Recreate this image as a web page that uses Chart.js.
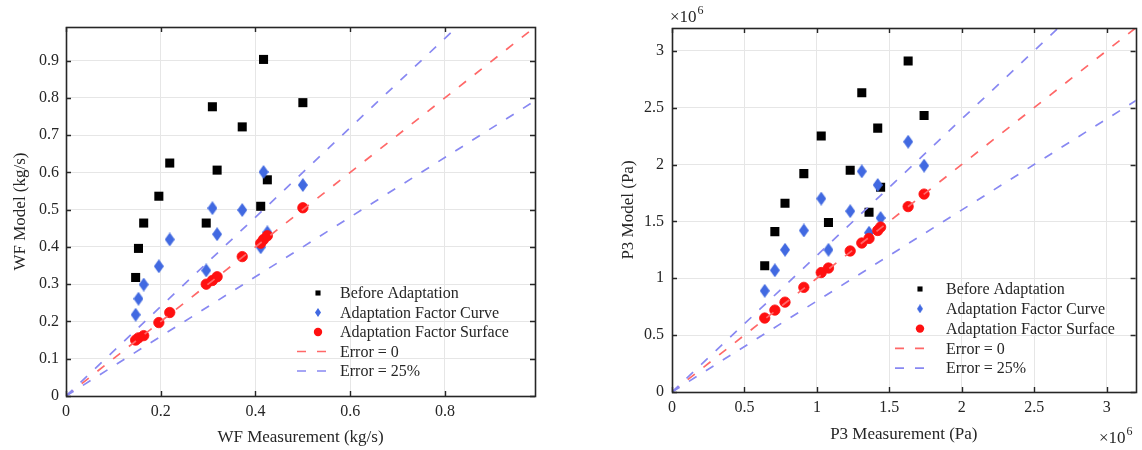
<!DOCTYPE html>
<html><head><meta charset="utf-8">
<script src="https://cdn.jsdelivr.net/npm/chart.js@4.4.0/dist/chart.umd.min.js"></script>
<style>
html,body{margin:0;padding:0;background:#fff;width:1142px;height:450px;overflow:hidden;}
canvas{position:absolute;top:0;}
#c1{left:0;} #c2{left:610px;}
</style></head><body>
<canvas id="c1" width="560" height="450"></canvas>
<canvas id="c2" width="532" height="450"></canvas>
<script>
// ---------- data ----------
const seriesNames = ['Before Adaptation', 'Adaptation Factor Curve', 'Adaptation Factor Surface', 'Error = 0', 'Error = 25%'];

// WF chart (kg/s)
const wfMeasured = [0.147, 0.153, 0.164, 0.196, 0.219, 0.296, 0.309, 0.319, 0.372, 0.411, 0.417, 0.425, 0.500];
const wfBefore   = [0.318, 0.396, 0.464, 0.536, 0.625, 0.464, 0.776, 0.606, 0.722, 0.509, 0.903, 0.580, 0.787];
const wfCurve    = [0.218, 0.261, 0.299, 0.348, 0.420, 0.337, 0.504, 0.434, 0.499, 0.399, 0.601, 0.439, 0.566];
const wfSurface  = [0.150, 0.156, 0.162, 0.197, 0.224, 0.300, 0.310, 0.320, 0.374, 0.410, 0.420, 0.430, 0.505];
const wfTicksX = [0, 0.2, 0.4, 0.6, 0.8];
const wfTicksY = [0, 0.1, 0.2, 0.3, 0.4, 0.5, 0.6, 0.7, 0.8, 0.9];
const wfTickLabelsX = ['0', '0.2', '0.4', '0.6', '0.8'];
const wfTickLabelsY = ['0', '0.1', '0.2', '0.3', '0.4', '0.5', '0.6', '0.7', '0.8', '0.9'];

// P3 chart (Pa)
const p3Measured = [0.64e6, 0.71e6, 0.78e6, 0.91e6, 1.03e6, 1.08e6, 1.23e6, 1.31e6, 1.36e6, 1.42e6, 1.44e6, 1.63e6, 1.74e6];
const p3Before   = [1.11e6, 1.41e6, 1.66e6, 1.92e6, 2.25e6, 1.49e6, 1.95e6, 2.63e6, 1.58e6, 2.32e6, 1.80e6, 2.91e6, 2.43e6];
const p3Curve    = [0.89e6, 1.07e6, 1.25e6, 1.42e6, 1.70e6, 1.25e6, 1.59e6, 1.94e6, 1.40e6, 1.82e6, 1.53e6, 2.20e6, 1.99e6];
const p3Surface  = [0.65e6, 0.72e6, 0.79e6, 0.92e6, 1.05e6, 1.09e6, 1.24e6, 1.31e6, 1.35e6, 1.42e6, 1.45e6, 1.63e6, 1.74e6];
const p3Ticks = [0, 0.5e6, 1e6, 1.5e6, 2e6, 2.5e6, 3e6];
const p3TickLabels = ['0', '0.5', '1', '1.5', '2', '2.5', '3'];

// reference lines: model = slope * measurement
const errorSlopes = [1, 1.2, 0.8];

// ---------- styling ----------
const FONT = "'Liberation Serif', 'Times New Roman', serif";
const TEXT = '#262626';
Chart.defaults.font.family = FONT;
Chart.defaults.font.size = 16;
Chart.defaults.color = TEXT;

function diamond(w, h, color) {
  const c = document.createElement('canvas');
  c.width = w; c.height = h;
  const g = c.getContext('2d');
  g.fillStyle = color;
  g.beginPath();
  g.moveTo(w / 2, 0); g.lineTo(w, h / 2); g.lineTo(w / 2, h); g.lineTo(0, h / 2); g.closePath();
  g.fill();
  return c;
}
const BLUE = '#4169e1';
const diamondBig = diamond(10, 14, BLUE);
const diamondSmall = diamond(6, 9, BLUE);

const pts = (xs, ys) => xs.map((v, i) => ({x: v, y: ys[i]}));
const refLine = (slope, xmax) => [{x: 0, y: 0}, {x: xmax * 1.5, y: xmax * 1.5 * slope}];

function makeDatasets(xs, before, curve, surface, xmax) {
  return [
    {label: seriesNames[0], data: pts(xs, before), pointStyle: 'rect', pointRadius: 6.4, backgroundColor: '#000', borderColor: '#000', borderWidth: 0, order: 4, legendRadius: 3.6},
    {label: seriesNames[1], data: pts(xs, curve), pointStyle: diamondBig, backgroundColor: BLUE, borderColor: BLUE, order: 3, legendImage: diamondSmall},
    {label: seriesNames[2], data: pts(xs, surface), pointStyle: 'circle', pointRadius: 5.2, backgroundColor: '#ff1010', borderColor: '#ff1010', borderWidth: 0.8, order: 2, legendRadius: 4.2},
    {label: seriesNames[3], data: refLine(errorSlopes[0], xmax), showLine: true, pointRadius: 0, borderColor: '#ff6868', borderWidth: 1.7, borderDash: [9, 11], order: 1},
    {label: seriesNames[4], data: refLine(errorSlopes[1], xmax), showLine: true, pointRadius: 0, borderColor: '#8888f2', borderWidth: 1.7, borderDash: [9, 11], order: 0},
    {label: seriesNames[4], data: refLine(errorSlopes[2], xmax), showLine: true, pointRadius: 0, borderColor: '#8888f2', borderWidth: 1.7, borderDash: [9, 11], order: 0, legendHidden: true}
  ];
}

// frame + inward ticks
const framePlugin = {
  id: 'frame',
  afterDatasetsDraw(chart) {
    const {ctx, chartArea: a, scales: {x, y}} = chart;
    const L = 5;
    ctx.save();
    ctx.strokeStyle = TEXT;
    ctx.lineWidth = 1.4;
    ctx.beginPath();
    x.ticks.forEach(t => {
      const px = Math.round(x.getPixelForValue(t.value)) + 0.5;
      ctx.moveTo(px, a.bottom); ctx.lineTo(px, a.bottom - L);
      ctx.moveTo(px, a.top); ctx.lineTo(px, a.top + L);
    });
    y.ticks.forEach(t => {
      const py = Math.round(y.getPixelForValue(t.value)) + 0.5;
      ctx.moveTo(a.left, py); ctx.lineTo(a.left + L, py);
      ctx.moveTo(a.right, py); ctx.lineTo(a.right - L, py);
    });
    ctx.stroke();
    ctx.lineWidth = 1.6;
    ctx.strokeRect(Math.round(a.left) + 0.5, Math.round(a.top) + 0.5, Math.round(a.right - a.left), Math.round(a.bottom - a.top));
    ctx.restore();
  }
};

// legend drawn inside the axes (MATLAB style, no box)
const insideLegend = {
  id: 'insideLegend',
  afterDraw(chart, args, o) {
    const ctx = chart.ctx;
    ctx.save();
    ctx.font = `16px ${FONT}`;
    ctx.textBaseline = 'middle';
    ctx.fillStyle = TEXT;
    let row = 0;
    chart.data.datasets.forEach(ds => {
      if (ds.legendHidden) return;
      const y = o.y + row * o.dy;
      if (ds.showLine) {
        ctx.strokeStyle = ds.borderColor;
        ctx.lineWidth = ds.borderWidth;
        ctx.setLineDash(ds.borderDash);
        ctx.beginPath(); ctx.moveTo(o.lineX0, y); ctx.lineTo(o.lineX1, y); ctx.stroke();
        ctx.setLineDash([]);
      } else if (ds.legendImage) {
        ctx.drawImage(ds.legendImage, o.markX - ds.legendImage.width / 2, y - ds.legendImage.height / 2);
      } else if (ds.pointStyle === 'rect') {
        const s = ds.legendRadius * 2 * Math.SQRT1_2;
        ctx.fillStyle = ds.backgroundColor;
        ctx.fillRect(o.markX - s / 2, y - s / 2, s, s);
      } else {
        ctx.fillStyle = ds.backgroundColor;
        ctx.beginPath(); ctx.arc(o.markX, y, ds.legendRadius, 0, Math.PI * 2); ctx.fill();
      }
      ctx.fillStyle = TEXT;
      ctx.fillText(ds.label, o.textX, y + 1);
      row++;
    });
    ctx.restore();
  }
};

// exponent labels (x10^6)
const exponentPlugin = {
  id: 'exponent',
  afterDraw(chart, args, o) {
    if (!o.items) return;
    const ctx = chart.ctx;
    ctx.save();
    ctx.fillStyle = TEXT;
    ctx.textBaseline = 'alphabetic';
    o.items.forEach(it => {
      ctx.font = `17px ${FONT}`;
      ctx.fillText('×10', it.x, it.y);
      const w = ctx.measureText('×10').width;
      ctx.font = `12px ${FONT}`;
      ctx.fillText('6', it.x + w + 1, it.y - 8);
    });
    ctx.restore();
  }
};

function axisCommon() {
  return {
    type: 'linear',
    bounds: 'data',
    grid: {color: '#e6e6e6', lineWidth: 1, drawTicks: false},
    border: {display: false},
  };
}

function buildChart(id, cfg) {
  const xs = axisCommon(), ys = axisCommon();
  const fix = (vals) => (s) => { s.min = 0; s.max = cfg.max; s.ticks = vals.map(v => ({value: v})); };
  Object.assign(xs, {
    min: 0, max: cfg.max,
    ticks: {autoSkip: false, maxRotation: 0, padding: 6, callback: (v, i) => cfg.xLabels[i], font: {size: 16}},
    title: {display: true, text: cfg.xTitle, font: {size: 17}, padding: {top: 0, bottom: cfg.xTitlePad}, color: TEXT},
    afterBuildTicks: fix(cfg.xTicks),
    afterFit: s => { s.height = cfg.xH; }
  });
  Object.assign(ys, {
    min: 0, max: cfg.max,
    ticks: {autoSkip: false, padding: cfg.yTickPad, callback: (v, i) => cfg.yLabels[i], font: {size: 16}},
    title: {display: true, text: cfg.yTitle, font: {size: 17}, padding: {top: cfg.yTitlePad, bottom: 0}, color: TEXT},
    afterBuildTicks: fix(cfg.yTicks),
    afterFit: s => { s.width = cfg.yW; }
  });
  return new Chart(document.getElementById(id), {
    type: 'scatter',
    data: {datasets: cfg.datasets},
    options: {
      responsive: false, animation: false, devicePixelRatio: 1,
      events: [],
      layout: {padding: {top: cfg.padTop, right: cfg.padRight, left: 0, bottom: 0}},
      scales: {x: xs, y: ys},
      plugins: {
        legend: {display: false}, tooltip: {enabled: false},
        insideLegend: cfg.legend,
        exponent: {items: cfg.exponents}
      }
    },
    plugins: [framePlugin, insideLegend, exponentPlugin]
  });
}

buildChart('c1', {
  max: 0.99,
  xTicks: wfTicksX, yTicks: wfTicksY, xLabels: wfTickLabelsX, yLabels: wfTickLabelsY,
  xTitle: 'WF Measurement (kg/s)', yTitle: 'WF Model (kg/s)',
  xH: 54, yW: 66, padTop: 27, padRight: 25,
  xTitlePad: 2, yTitlePad: 10, yTickPad: 7,
  datasets: makeDatasets(wfMeasured, wfBefore, wfCurve, wfSurface, 0.99),
  legend: {markX: 318, textX: 340, lineX0: 297, lineX1: 328, y: 293, dy: 19.5},
  exponents: null
});

buildChart('c2', {
  max: 3.2e6,
  xTicks: p3Ticks, yTicks: p3Ticks, xLabels: p3TickLabels, yLabels: p3TickLabels,
  xTitle: 'P3 Measurement (Pa)', yTitle: 'P3 Model (Pa)',
  xH: 58, yW: 62, padTop: 28, padRight: 4,
  xTitlePad: 5, yTitlePad: 8, yTickPad: 8,
  datasets: makeDatasets(p3Measured, p3Before, p3Curve, p3Surface, 3.2e6),
  legend: {markX: 310, textX: 336, lineX0: 285, lineX1: 322, y: 289, dy: 19.8},
  exponents: [{x: 60, y: 22}, {x: 489, y: 443}]
});
</script>
</body></html>
